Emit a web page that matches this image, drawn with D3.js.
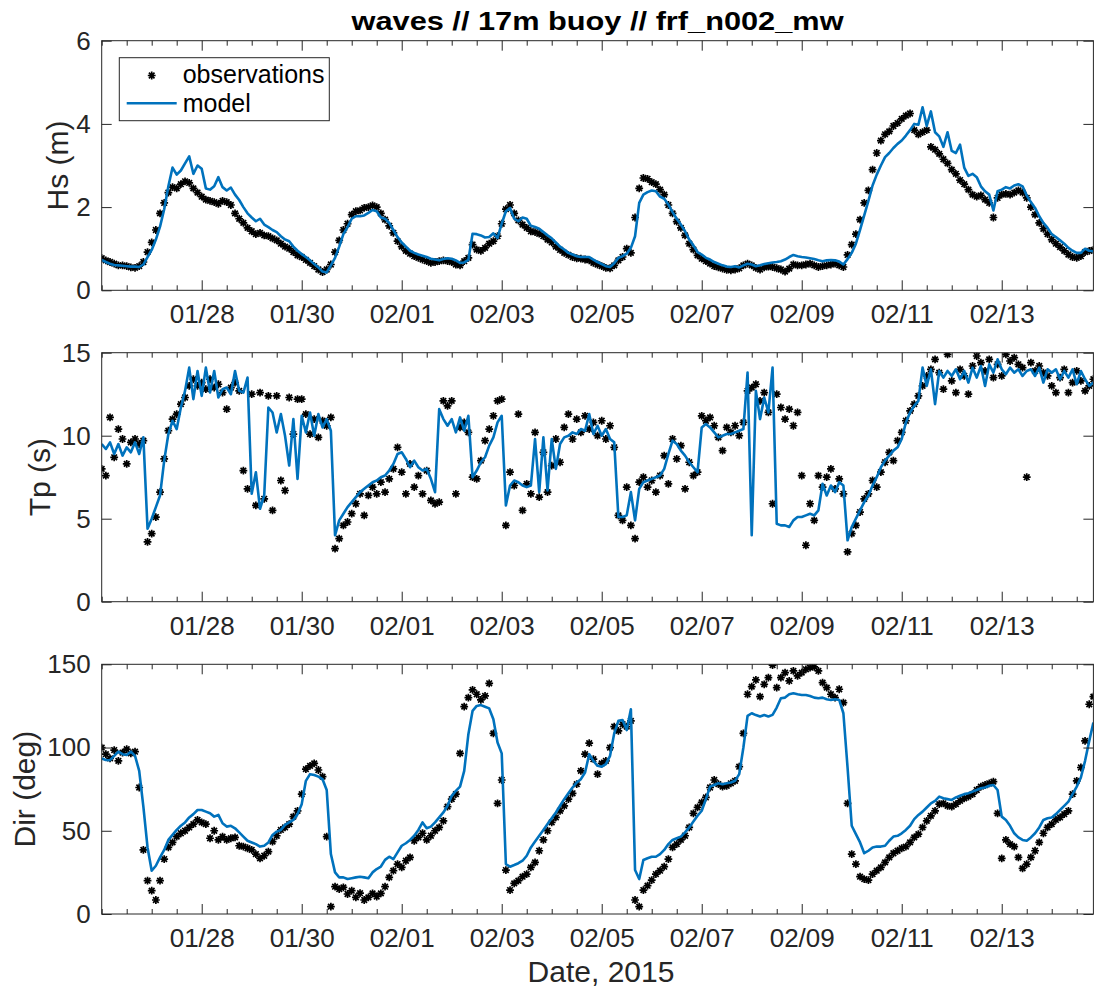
<!DOCTYPE html>
<html>
<head>
<meta charset="utf-8">
<script src="https://cdn.jsdelivr.net/npm/d3@7"></script>
<style>
  html, body { margin: 0; padding: 0; background: #fff; }
  svg { display: block; }
</style>
</head>
<body>
<svg id="fig" width="1094" height="989"></svg>
<script>
// Wave records at the 17m buoy, sampled every 2 hours from 2015-01-26 00:00 UTC.
// Each row below is one day (12 samples); the last day stops at 20:00.

// Significant wave height, m
const hsObs = [
  0.77,0.72,0.68,0.64,0.60,0.60,0.58,0.55,0.54,0.58,0.68,0.92,
  1.15,1.45,1.85,2.10,2.35,2.48,2.45,2.55,2.62,2.58,2.45,2.35,
  2.25,2.18,2.15,2.12,2.08,2.15,2.12,2.05,1.85,1.72,1.62,1.50,
  1.42,1.35,1.38,1.32,1.30,1.25,1.20,1.12,1.05,1.00,0.92,0.84,
  0.80,0.73,0.66,0.58,0.50,0.44,0.50,0.62,0.92,1.20,1.45,1.60,
  1.82,1.90,1.92,1.98,2.00,2.04,2.00,1.85,1.70,1.55,1.38,1.18,
  1.05,0.95,0.88,0.82,0.78,0.74,0.70,0.66,0.68,0.70,0.72,0.70,
  0.68,0.62,0.60,0.70,0.78,1.10,0.98,0.95,1.02,1.12,1.18,1.30,
  1.60,1.95,2.05,1.85,1.68,1.58,1.50,1.42,1.40,1.36,1.30,1.22,
  1.15,1.05,0.97,0.90,0.85,0.80,0.77,0.76,0.74,0.72,0.66,0.62,
  0.58,0.54,0.53,0.60,0.72,0.80,1.00,0.90,1.75,2.45,2.70,2.68,
  2.60,2.55,2.42,2.30,2.05,1.85,1.65,1.50,1.32,1.12,0.98,0.84,
  0.76,0.70,0.64,0.58,0.55,0.52,0.49,0.48,0.50,0.53,0.60,0.64,
  0.60,0.54,0.50,0.55,0.57,0.56,0.53,0.50,0.45,0.52,0.62,0.60,
  0.60,0.62,0.64,0.60,0.56,0.58,0.60,0.62,0.64,0.60,0.56,0.85,
  1.10,1.35,1.70,2.10,2.40,2.90,3.30,3.60,3.75,3.82,3.95,4.02,
  4.12,4.20,4.25,3.85,3.75,3.80,3.85,3.45,3.38,3.28,3.15,3.05,
  2.90,2.80,2.65,2.55,2.42,2.30,2.25,2.28,2.18,2.10,1.75,2.22,
  2.30,2.32,2.30,2.35,2.40,2.35,2.22,2.00,1.82,1.62,1.48,1.35,
  1.22,1.12,1.04,0.95,0.86,0.80,0.78,0.82,0.92,0.95,0.97
];
const hsModel = [
  0.73,0.68,0.64,0.61,0.60,0.59,0.58,0.57,0.57,0.56,0.62,0.80,
  0.97,1.22,1.53,1.95,2.50,2.95,2.78,2.88,3.05,3.22,2.80,3.00,
  2.92,2.45,2.42,2.50,2.72,2.48,2.40,2.47,2.30,2.17,2.00,1.85,
  1.75,1.66,1.72,1.58,1.52,1.45,1.40,1.30,1.22,1.18,1.05,0.95,
  0.87,0.80,0.72,0.63,0.55,0.45,0.43,0.60,0.78,1.05,1.35,1.52,
  1.72,1.78,1.78,1.80,1.86,1.93,1.90,1.75,1.72,1.62,1.45,1.28,
  1.15,1.05,0.95,0.90,0.86,0.83,0.80,0.76,0.74,0.72,0.75,0.77,
  0.76,0.72,0.66,0.67,0.73,1.36,1.35,1.32,1.27,1.28,1.37,1.26,
  1.60,1.90,1.98,1.72,1.66,1.75,1.72,1.55,1.52,1.48,1.40,1.32,
  1.25,1.15,1.05,0.98,0.90,0.86,0.82,0.80,0.80,0.80,0.74,0.68,
  0.63,0.58,0.56,0.65,0.78,0.82,0.88,1.02,1.30,2.10,2.30,2.36,
  2.40,2.38,2.25,2.20,2.06,1.88,1.72,1.58,1.42,1.22,1.08,0.92,
  0.86,0.78,0.74,0.68,0.64,0.60,0.57,0.56,0.58,0.55,0.60,0.64,
  0.62,0.58,0.60,0.63,0.65,0.67,0.68,0.70,0.74,0.80,0.85,0.82,
  0.80,0.79,0.77,0.75,0.72,0.70,0.72,0.73,0.72,0.69,0.62,0.75,
  0.90,1.12,1.45,1.80,2.15,2.52,2.78,3.00,3.20,3.30,3.42,3.52,
  3.60,3.72,3.85,4.00,3.98,4.40,3.95,4.30,3.80,3.70,3.45,3.80,
  3.35,3.30,3.50,2.95,2.75,2.80,2.72,2.50,2.38,2.30,1.92,2.38,
  2.42,2.48,2.45,2.52,2.55,2.50,2.28,2.12,1.98,1.78,1.62,1.50,
  1.35,1.28,1.20,1.12,1.02,0.95,0.90,0.90,1.00,0.95,0.94
];

// Peak period, s
const tpObs = [
  8.0,7.6,11.1,8.7,10.4,9.8,8.3,9.6,9.8,9.5,9.7,3.6,
  4.1,5.1,6.6,8.6,10.3,11.0,11.3,11.9,12.3,13.0,13.4,13.0,
  13.2,12.8,13.4,12.9,13.1,12.6,11.6,12.9,13.2,12.7,7.9,6.8,
  12.5,5.8,12.6,6.2,12.4,5.5,12.4,7.3,6.7,12.3,10.1,12.2,
  12.2,11.3,10.1,11.0,9.9,10.9,10.6,11.1,3.2,3.8,4.6,4.8,
  5.3,5.9,6.5,5.2,6.4,6.9,6.5,7.2,6.6,7.4,8.0,9.3,
  7.8,6.5,8.3,6.9,7.6,6.5,7.9,6.1,5.9,6.0,12.1,11.8,
  12.1,6.5,10.5,10.8,10.2,7.5,7.4,8.5,9.7,10.4,11.2,12.1,
  12.2,4.6,7.8,7.0,11.3,5.5,7.1,6.5,10.2,6.3,9.0,6.6,
  8.2,9.8,8.4,10.5,11.3,9.8,11.0,10.2,11.2,10.4,10.8,10.0,
  10.9,9.8,10.6,9.3,5.2,4.9,6.9,4.6,3.8,7.2,7.5,6.9,
  7.3,6.6,7.6,8.8,7.1,9.8,8.6,9.4,6.8,8.4,7.6,7.8,
  11.2,10.9,11.1,10.6,9.9,9.1,10.5,10.2,10.6,10.0,10.8,12.7,
  12.9,13.1,12.1,12.6,11.4,5.9,12.5,11.7,11.0,11.6,10.6,11.4,
  7.6,3.4,5.9,4.9,7.6,6.9,7.5,8.0,6.8,7.4,6.5,3.0,
  4.1,4.6,5.4,6.2,6.5,7.3,6.9,7.8,8.4,9.0,8.5,9.7,
  10.2,10.9,11.5,11.9,12.4,13.0,13.6,14.0,14.6,13.8,12.8,14.9,
  13.3,12.6,14.0,13.6,12.5,14.2,14.8,14.4,13.9,14.6,13.5,14.3,
  13.6,14.9,14.5,14.7,14.3,14.1,7.5,14.4,13.9,14.2,13.8,13.6,
  13.0,12.6,13.5,14.0,12.6,13.2,13.9,13.3,12.7,13.0,13.4
];
const tpModel = [
  9.5,9.2,9.6,8.9,9.5,8.8,9.3,9.0,9.6,8.9,9.9,4.4,
  5.0,5.7,6.4,8.5,10.1,10.9,10.4,11.7,12.7,14.1,12.2,13.9,
  12.4,14.1,12.6,13.9,12.3,12.8,12.9,12.5,13.9,12.7,12.6,13.5,
  6.5,7.8,5.6,6.4,11.7,11.4,10.2,11.3,10.0,8.2,11.0,7.4,
  11.2,10.2,11.4,10.0,11.3,10.5,11.0,10.3,4.0,4.9,5.3,5.7,
  6.0,6.3,6.6,6.8,7.0,7.2,7.3,7.5,7.6,7.9,8.3,8.9,
  9.0,8.6,8.1,8.5,8.1,7.9,8.0,7.4,6.6,11.6,11.0,10.6,
  11.0,10.2,11.1,10.3,11.2,7.5,7.9,8.4,8.7,9.4,9.9,10.8,
  11.2,5.8,7.0,7.3,7.2,7.0,6.9,7.0,9.8,6.6,9.9,6.7,
  9.8,8.0,9.5,9.9,10.0,10.2,10.1,10.4,10.3,11.3,10.1,10.6,
  10.0,10.4,9.8,9.6,5.1,5.1,5.2,6.6,4.9,6.8,7.2,7.3,
  7.4,7.5,7.6,8.0,8.9,9.7,9.5,9.1,8.8,8.4,8.1,7.8,
  10.5,10.7,10.5,10.2,9.9,10.0,10.1,10.1,10.2,10.3,10.4,13.8,
  4.0,12.7,11.0,12.3,11.4,14.1,4.7,4.6,4.6,4.5,4.9,5.1,
  5.1,5.2,5.3,5.2,5.5,7.1,6.4,7.0,6.6,7.2,7.0,3.7,
  4.5,5.0,5.5,6.0,6.4,7.0,7.5,8.1,8.5,8.8,9.1,9.3,
  9.8,10.8,11.4,11.8,12.1,14.1,13.0,14.0,11.9,13.9,13.5,13.9,
  13.6,14.0,13.4,13.9,13.2,14.1,13.5,14.2,13.0,14.3,13.8,14.6,
  14.0,13.7,14.1,13.8,14.0,13.6,13.9,14.0,13.6,14.1,13.2,14.0,
  13.8,14.0,13.4,13.9,13.5,14.0,13.1,13.9,13.4,13.0,13.2
];

// Mean direction, deg
const dirObs = [
  100.0,96.0,93.5,98.5,92.0,97.0,99.0,96.5,97.5,76.0,38.5,20.0,
  14.0,8.4,20.0,33.0,40.0,43.0,46.5,48.5,50.0,52.0,54.0,56.5,
  55.0,54.0,45.5,50.0,44.5,46.5,44.5,45.5,46.0,41.0,40.5,39.5,
  38.5,36.0,33.4,35.0,37.5,43.5,47.0,50.5,52.0,54.0,58.5,62.0,
  72.0,87.0,89.0,90.5,86.5,82.5,46.5,4.4,16.4,15.0,16.0,12.0,
  14.0,10.0,12.5,8.4,10.0,12.4,10.5,12.4,16.4,22.0,26.0,30.0,
  28.0,32.0,34.0,44.0,46.0,48.5,44.5,47.0,50.0,52.0,56.0,64.5,
  69.0,72.0,96.5,124.6,130.0,134.6,132.0,128.6,131.0,138.6,108.5,66.5,
  80.5,26.4,14.4,18.4,20.0,22.4,24.0,28.0,31.0,38.0,44.5,50.0,
  55.0,58.0,62.0,65.0,69.0,72.5,78.0,86.0,96.0,102.6,93.0,84.0,
  90.5,92.0,100.0,112.6,110.0,114.0,112.6,116.0,8.4,4.4,14.4,17.0,
  20.4,24.0,26.0,28.4,33.0,40.0,42.0,44.5,47.0,52.0,60.5,64.0,
  67.0,70.0,76.0,80.5,78.0,76.5,77.0,78.5,80.0,88.5,108.5,132.0,
  136.6,140.6,130.6,138.0,142.0,149.5,136.0,142.0,145.0,140.0,146.0,143.0,
  145.0,147.0,148.0,148.5,146.0,139.0,136.0,132.0,130.0,135.0,127.0,66.5,
  36.0,30.0,22.4,21.0,20.4,24.0,26.0,28.0,31.0,34.0,36.5,38.0,
  39.5,40.5,43.0,46.0,48.0,52.0,56.0,59.0,62.0,66.0,66.5,65.0,
  64.5,66.0,68.0,69.5,70.5,72.0,74.5,76.5,77.5,78.5,79.5,60.5,
  33.4,44.5,42.0,40.5,34.0,27.4,30.0,34.0,38.0,43.0,48.5,52.0,
  54.0,56.5,58.0,60.0,62.0,72.0,80.0,88.0,104.0,126.0,130.6
];
const dirModel = [
  93.4,92.5,92.4,95.0,97.5,96.0,95.5,97.5,95.0,86.0,64.5,40.0,
  26.0,29.0,34.0,38.5,44.5,47.5,50.5,53.0,55.0,58.0,60.0,62.5,
  62.5,61.5,60.5,58.5,59.5,54.5,52.5,53.0,51.5,49.0,46.5,44.0,
  43.0,42.0,40.5,41.0,43.0,47.5,49.5,50.5,53.5,55.0,56.5,60.0,
  66.0,80.0,84.0,83.5,82.5,81.0,74.5,36.0,25.0,22.0,22.0,21.0,
  21.5,22.0,22.4,22.0,21.5,25.0,27.0,28.5,32.5,34.4,33.0,37.0,
  41.0,42.5,44.5,47.0,50.5,55.0,51.5,52.5,55.0,58.0,61.0,65.0,
  71.0,74.0,76.5,86.0,108.0,122.0,125.0,125.5,124.5,123.5,117.0,103.0,
  96.5,30.0,28.4,29.4,30.5,32.0,35.0,40.0,43.5,47.0,50.5,54.0,
  57.5,61.0,65.0,69.0,72.5,76.0,79.0,81.0,85.0,96.0,92.0,89.0,
  88.5,90.0,95.0,108.5,116.0,116.5,110.5,123.0,26.4,21.0,32.4,33.5,
  34.4,34.4,36.0,38.5,42.0,44.5,45.5,46.5,49.0,52.0,55.5,59.0,
  62.0,69.0,76.5,77.5,78.5,78.0,78.5,79.0,80.0,84.0,100.0,119.0,
  120.6,119.5,118.6,119.5,118.6,119.6,124.0,129.6,130.0,132.0,132.6,132.0,
  131.6,131.6,131.0,130.0,129.6,130.0,129.0,128.6,129.0,128.6,120.6,88.0,
  53.0,48.0,43.0,36.5,38.0,40.0,40.5,40.5,41.0,44.0,46.5,47.0,
  48.5,50.5,53.0,57.0,59.5,61.5,64.0,66.5,68.0,70.5,69.5,69.0,
  68.5,70.0,71.0,72.0,72.5,73.5,74.5,75.5,76.0,77.0,77.5,74.5,
  58.5,56.5,53.0,48.5,46.0,44.5,44.0,46.0,48.5,52.0,56.5,57.5,
  58.0,60.0,62.5,65.0,67.5,72.0,76.5,82.0,92.0,104.0,115.0
];

// Axis ticks and labels
const hsTicks = [0, 2, 4, 6];
const tpTicks = [0, 5, 10, 15];
const dirTicks = [0, 50, 100, 150];
const yLabels = ["Hs (m)", "Tp (s)", "Dir (deg)"];
const titleText = "waves // 17m buoy // frf_n002_mw";
const xLabelText = "Date, 2015";
const legendLabels = ["observations", "model"];

// ---------------------------------------------------------------------------
const W = 1094, H = 989;
const FONT = "'Liberation Sans', Arial, Helvetica, sans-serif";
const INK = "#262626";
const BLUE = "#0072BD";

const t0 = Date.UTC(2015, 0, 26);
const step = 2 * 3600 * 1000;
const times = hsObs.map((_, i) => new Date(t0 + i * step));
const tEnd = new Date(Date.UTC(2015, 1, 14, 20));

const svg = d3.select("#fig");
svg.append("rect").attr("width", W).attr("height", H).attr("fill", "#fff");

const left = 101.7, right = 1093.4;
const x = d3.scaleUtc().domain([new Date(t0), tEnd]).range([left, right]);

const majorDates = d3.utcDay.range(new Date(Date.UTC(2015, 0, 28)), tEnd, 2);
const minorDates = d3.utcHour.range(new Date(t0), tEnd, 12)
  .filter(d => !majorDates.some(m => +m === +d));

const panels = [
  { obs: hsObs,  model: hsModel,  ticks: hsTicks,  label: yLabels[0], top: 40.7,  bottom: 290.3, labelX: 68 },
  { obs: tpObs,  model: tpModel,  ticks: tpTicks,  label: yLabels[1], top: 352.7, bottom: 601.7, labelX: 50 },
  { obs: dirObs, model: dirModel, ticks: dirTicks, label: yLabels[2], top: 664.3, bottom: 914,   labelX: 35 }
];

// asterisk marker: plus + cross
const R = 3.9, Rd = 2.8;
const starPath = `M${-R},0H${R}M0,${-R}V${R}M${-Rd},${-Rd}L${Rd},${Rd}M${-Rd},${Rd}L${Rd},${-Rd}`;

function styleAxis(g) {
  g.attr("font-family", FONT).attr("font-size", 26);
  g.select(".domain").remove();
  g.selectAll(".tick line").attr("stroke", INK).attr("stroke-width", 1);
  g.selectAll(".tick text").attr("fill", INK);
}

panels.forEach((p, k) => {
  const y = d3.scaleLinear()
    .domain([p.ticks[0], p.ticks[p.ticks.length - 1]])
    .range([p.bottom, p.top]);

  const clipId = "clip" + k;
  svg.append("clipPath").attr("id", clipId)
    .append("rect")
    .attr("x", left).attr("y", p.top)
    .attr("width", right - left).attr("height", p.bottom - p.top);

  const plot = svg.append("g").attr("clip-path", `url(#${clipId})`);

  // observations
  plot.append("g")
    .selectAll("path")
    .data(p.obs)
    .join("path")
    .attr("d", starPath)
    .attr("transform", (v, i) => `translate(${x(times[i])},${y(v)})`)
    .attr("fill", "none")
    .attr("stroke", "#000")
    .attr("stroke-width", 1.7);

  // model
  plot.append("path")
    .datum(p.model)
    .attr("d", d3.line().x((v, i) => x(times[i])).y(v => y(v)))
    .attr("fill", "none")
    .attr("stroke", BLUE)
    .attr("stroke-width", 2.6)
    .attr("stroke-linejoin", "round");

  // axes: inward ticks on all four sides
  const bottomMajor = svg.append("g").attr("transform", `translate(0,${p.bottom})`)
    .call(d3.axisBottom(x).tickValues(majorDates).tickSize(-10).tickPadding(14.5)
      .tickFormat(d3.utcFormat("%m/%d")));
  styleAxis(bottomMajor);
  const bottomMinor = svg.append("g").attr("transform", `translate(0,${p.bottom})`)
    .call(d3.axisBottom(x).tickValues(minorDates).tickSize(-5).tickFormat(""));
  styleAxis(bottomMinor);
  const topMajor = svg.append("g").attr("transform", `translate(0,${p.top})`)
    .call(d3.axisTop(x).tickValues(majorDates).tickSize(-10).tickFormat(""));
  styleAxis(topMajor);
  const topMinor = svg.append("g").attr("transform", `translate(0,${p.top})`)
    .call(d3.axisTop(x).tickValues(minorDates).tickSize(-5).tickFormat(""));
  styleAxis(topMinor);

  const leftAxis = svg.append("g").attr("transform", `translate(${left},0)`)
    .call(d3.axisLeft(y).tickValues(p.ticks).tickSize(-10).tickPadding(11)
      .tickFormat(d3.format("d")));
  styleAxis(leftAxis);
  const rightAxis = svg.append("g").attr("transform", `translate(${right},0)`)
    .call(d3.axisRight(y).tickValues(p.ticks).tickSize(-10).tickFormat(""));
  styleAxis(rightAxis);

  // box
  svg.append("rect")
    .attr("x", left).attr("y", p.top)
    .attr("width", right - left).attr("height", p.bottom - p.top)
    .attr("fill", "none").attr("stroke", INK).attr("stroke-width", 1);

  // y label
  svg.append("text")
    .attr("transform", `translate(${p.labelX},${(p.top + p.bottom) / 2}) rotate(-90)`)
    .attr("text-anchor", "middle")
    .attr("font-family", FONT).attr("font-size", 30)
    .attr("fill", INK)
    .text(p.label);
});

// title
svg.append("text")
  .attr("x", (left + right) / 2).attr("y", 29.5)
  .attr("text-anchor", "middle")
  .attr("font-family", FONT).attr("font-size", 25).attr("font-weight", "bold")
  .attr("fill", "#000")
  .attr("textLength", 492).attr("lengthAdjust", "spacingAndGlyphs")
  .text(titleText);

// x label
svg.append("text")
  .attr("x", 601).attr("y", 981.5)
  .attr("text-anchor", "middle")
  .attr("font-family", FONT).attr("font-size", 30)
  .attr("fill", INK)
  .text(xLabelText);

// legend
const lg = svg.append("g");
lg.append("rect")
  .attr("x", 119.3).attr("y", 57.7).attr("width", 210).attr("height", 63)
  .attr("fill", "#fff").attr("stroke", INK).attr("stroke-width", 1);
lg.append("path")
  .attr("d", starPath).attr("transform", "translate(151.7,75.5)")
  .attr("fill", "none").attr("stroke", "#000").attr("stroke-width", 1.7);
lg.append("line")
  .attr("x1", 126.7).attr("x2", 176.7).attr("y1", 103.3).attr("y2", 103.3)
  .attr("stroke", BLUE).attr("stroke-width", 2.6);
lg.selectAll("text.lab")
  .data(legendLabels)
  .join("text")
  .attr("class", "lab")
  .attr("x", 182.7)
  .attr("y", (d, i) => i === 0 ? 83.3 : 111.7)
  .attr("font-family", FONT).attr("font-size", 25)
  .attr("fill", "#000")
  .text(d => d);
</script>
</body>
</html>
